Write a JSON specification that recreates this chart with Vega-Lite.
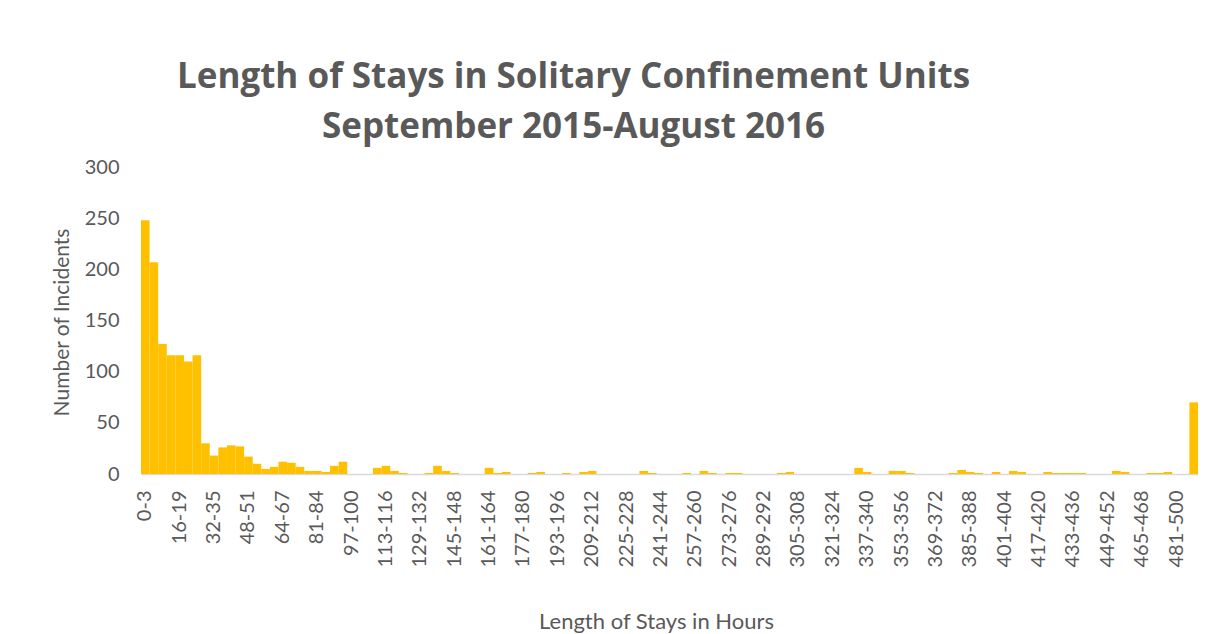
{
  "$schema": "https://vega.github.io/schema/vega-lite/v6.json",
  "width": 1057,
  "height": 307,
  "autosize": {"type": "none"},
  "padding": {"left": 141, "top": 167, "right": 21, "bottom": 160},
  "background": "white",
  "title": {
    "text": ["Length of Stays in Solitary Confinement Units", "September 2015-August 2016"],
    "font": "Open Sans",
    "fontSize": 35,
    "fontWeight": "bold",
    "color": "#595959",
    "anchor": "middle",
    "dx": -96,
    "lineHeight": 50,
    "offset": 12
  },
  "data": {
    "values": [
      {"bin": "0-3", "n": 248}, {"bin": "4-7", "n": 207}, {"bin": "8-11", "n": 127}, {"bin": "12-15", "n": 116},
      {"bin": "16-19", "n": 116}, {"bin": "20-23", "n": 110}, {"bin": "24-27", "n": 116}, {"bin": "28-31", "n": 30},
      {"bin": "32-35", "n": 18}, {"bin": "36-39", "n": 26}, {"bin": "40-43", "n": 28}, {"bin": "44-47", "n": 27},
      {"bin": "48-51", "n": 17}, {"bin": "52-55", "n": 10}, {"bin": "56-59", "n": 5}, {"bin": "60-63", "n": 7},
      {"bin": "64-67", "n": 12}, {"bin": "68-71", "n": 11}, {"bin": "72-76", "n": 7}, {"bin": "77-80", "n": 3},
      {"bin": "81-84", "n": 3}, {"bin": "85-88", "n": 2}, {"bin": "89-92", "n": 8}, {"bin": "93-96", "n": 12},
      {"bin": "97-100", "n": 0}, {"bin": "101-104", "n": 0}, {"bin": "105-108", "n": 0}, {"bin": "109-112", "n": 6},
      {"bin": "113-116", "n": 8}, {"bin": "117-120", "n": 3}, {"bin": "121-124", "n": 1}, {"bin": "125-128", "n": 0},
      {"bin": "129-132", "n": 0}, {"bin": "133-136", "n": 1}, {"bin": "137-140", "n": 8}, {"bin": "141-144", "n": 3},
      {"bin": "145-148", "n": 1}, {"bin": "149-152", "n": 0}, {"bin": "153-156", "n": 0}, {"bin": "157-160", "n": 0},
      {"bin": "161-164", "n": 6}, {"bin": "165-168", "n": 1}, {"bin": "169-172", "n": 2}, {"bin": "173-176", "n": 0},
      {"bin": "177-180", "n": 0}, {"bin": "181-184", "n": 1}, {"bin": "185-188", "n": 2}, {"bin": "189-192", "n": 0},
      {"bin": "193-196", "n": 0}, {"bin": "197-200", "n": 1}, {"bin": "201-204", "n": 0}, {"bin": "205-208", "n": 2},
      {"bin": "209-212", "n": 3}, {"bin": "213-216", "n": 0}, {"bin": "217-220", "n": 0}, {"bin": "221-224", "n": 0},
      {"bin": "225-228", "n": 0}, {"bin": "229-232", "n": 0}, {"bin": "233-236", "n": 3}, {"bin": "237-240", "n": 1},
      {"bin": "241-244", "n": 0}, {"bin": "245-248", "n": 0}, {"bin": "249-252", "n": 0}, {"bin": "253-256", "n": 1},
      {"bin": "257-260", "n": 0}, {"bin": "261-264", "n": 3}, {"bin": "265-268", "n": 1}, {"bin": "269-272", "n": 0},
      {"bin": "273-276", "n": 1}, {"bin": "277-280", "n": 1}, {"bin": "281-284", "n": 0}, {"bin": "285-288", "n": 0},
      {"bin": "289-292", "n": 0}, {"bin": "293-296", "n": 0}, {"bin": "297-300", "n": 1}, {"bin": "301-304", "n": 2},
      {"bin": "305-308", "n": 0}, {"bin": "309-312", "n": 0}, {"bin": "313-316", "n": 0}, {"bin": "317-320", "n": 0},
      {"bin": "321-324", "n": 0}, {"bin": "325-328", "n": 0}, {"bin": "329-332", "n": 0}, {"bin": "333-336", "n": 6},
      {"bin": "337-340", "n": 2}, {"bin": "341-344", "n": 0}, {"bin": "345-348", "n": 0}, {"bin": "349-352", "n": 3},
      {"bin": "353-356", "n": 3}, {"bin": "357-360", "n": 1}, {"bin": "361-364", "n": 0}, {"bin": "365-368", "n": 0},
      {"bin": "369-372", "n": 0}, {"bin": "373-376", "n": 0}, {"bin": "377-380", "n": 1}, {"bin": "381-384", "n": 4},
      {"bin": "385-388", "n": 2}, {"bin": "389-392", "n": 1}, {"bin": "393-396", "n": 0}, {"bin": "397-400", "n": 2},
      {"bin": "401-404", "n": 0}, {"bin": "405-408", "n": 3}, {"bin": "409-412", "n": 2}, {"bin": "413-416", "n": 0},
      {"bin": "417-420", "n": 0}, {"bin": "421-424", "n": 2}, {"bin": "425-428", "n": 1}, {"bin": "429-432", "n": 1},
      {"bin": "433-436", "n": 1}, {"bin": "437-440", "n": 1}, {"bin": "441-444", "n": 0}, {"bin": "445-448", "n": 0},
      {"bin": "449-452", "n": 0}, {"bin": "453-456", "n": 3}, {"bin": "457-460", "n": 2}, {"bin": "461-464", "n": 0},
      {"bin": "465-468", "n": 0}, {"bin": "469-472", "n": 1}, {"bin": "473-476", "n": 1}, {"bin": "477-480", "n": 2},
      {"bin": "481-500", "n": 0}, {"bin": "501-520", "n": 0}, {"bin": "521+", "n": 70}
    ]
  },
  "mark": {"type": "bar", "color": "#FFC000"},
  "encoding": {
    "x": {
      "field": "bin",
      "type": "nominal",
      "sort": null,
      "scale": {"paddingInner": 0, "paddingOuter": 0},
      "axis": {
        "title": "Length of Stays in Hours",
        "values": ["0-3","16-19","32-35","48-51","64-67","81-84","97-100","113-116","129-132","145-148","161-164","177-180","193-196","209-212","225-228","241-244","257-260","273-276","289-292","305-308","321-324","337-340","353-356","369-372","385-388","401-404","417-420","433-436","449-452","465-468","481-500"],
        "labelAngle": -90,
        "labelFont": "Lato",
        "labelFontSize": 20,
        "labelColor": "#595959",
        "labelPadding": 16,
        "ticks": false,
        "domainColor": "#d9d9d9",
        "domainWidth": 1.5,
        "titleFont": "Lato",
        "titleFontSize": 22,
        "titleFontWeight": "normal",
        "titleColor": "#595959",
        "titleX": 515,
        "titleY": 154,
        "titleBaseline": "alphabetic",
        "titleAnchor": null
      }
    },
    "y": {
      "field": "n",
      "type": "quantitative",
      "scale": {"domain": [0, 300]},
      "axis": {
        "title": "Number of Incidents",
        "values": [0, 50, 100, 150, 200, 250, 300],
        "grid": false,
        "domain": false,
        "ticks": false,
        "labelFont": "Lato",
        "labelFontSize": 20,
        "labelColor": "#595959",
        "labelPadding": 22,
        "titleFont": "Lato",
        "titleFontSize": 21,
        "titleFontWeight": "normal",
        "titleColor": "#595959",
        "titleAngle": -90,
        "titleX": -79,
        "titleY": 155,
        "titleAlign": "center",
        "titleBaseline": "middle"
      }
    }
  },
  "config": {"view": {"stroke": null}}
}
